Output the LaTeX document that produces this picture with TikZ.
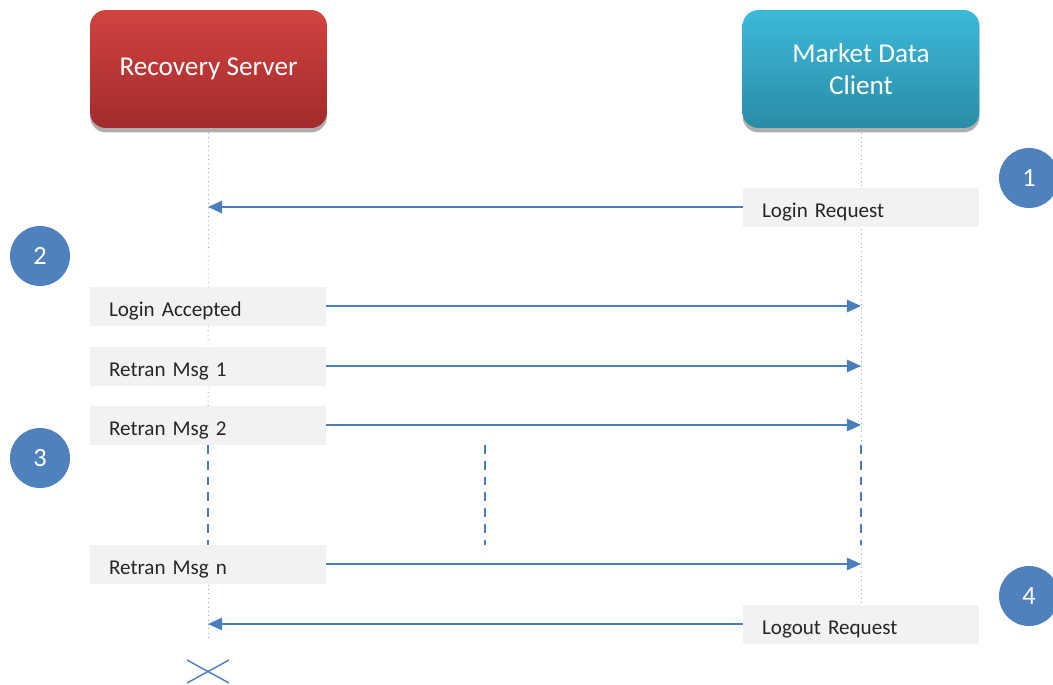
\documentclass[tikz,border=0pt]{standalone}
\usepackage{fontspec}
\setmainfont{Carlito}
\usepackage{xcolor}
\usetikzlibrary{arrows.meta,shadows}

\definecolor{srvtop}{HTML}{D24341}
\definecolor{srvbot}{HTML}{A12B2B}
\definecolor{clitop}{HTML}{3CB9DA}
\definecolor{clibot}{HTML}{2A8CA6}
\definecolor{msgblue}{HTML}{4A7EBB}
\definecolor{lifeblue}{HTML}{86A8D6}
\definecolor{lblgray}{HTML}{F2F2F2}
\definecolor{stepblue}{HTML}{4F81BD}

\tikzset{
  actor/.style={rounded corners=0.32cm,minimum width=4.74cm,minimum height=2.36cm,
    align=center,text=white,font=\fontsize{15.5}{18.5}\selectfont,
    drop shadow={shadow xshift=0pt,shadow yshift=-2.5pt,fill=black!45,opacity=0.7}},
  lbl/.style={fill=lblgray,minimum width=4.72cm,minimum height=0.78cm,text width=3.96cm,
    inner xsep=0.38cm,inner ysep=0pt,text height=12pt,text depth=0pt,align=left,
    font=\fontsize{12}{14}\selectfont,text=black!85},
  stepnum/.style={circle,fill=stepblue,minimum size=1.2cm,inner sep=0pt,text=white,
    font=\fontsize{15}{17}\selectfont},
  msg/.style={msgblue,line width=1.1pt,-{Triangle[length=8pt,width=7pt]}},
  life/.style={lifeblue,line width=0.5pt,dotted},
  gap/.style={msgblue,line width=1pt,dash pattern=on 5pt off 4pt}
}

\begin{document}
\begin{tikzpicture}[x=0.02cm,y=-0.02cm]
	\useasboundingbox (0,0) rectangle (1053,684);
	% actors
	\node[actor,top color=srvtop,bottom color=srvbot] (srv) at (208.5,69) {Recovery Server};
	\node[actor,top color=clitop,bottom color=clibot] (cli) at (861,69) {Market Data\\Client};
	% lifelines
	\coordinate (srvgap1) at (208,445);
	\coordinate (srvgap2) at (208,545);
	\coordinate (srvend) at (208,640);
	\coordinate (cligap1) at (861,445);
	\coordinate (cligap2) at (861,545);
	\coordinate (cliend) at (861,605);
	\draw[life] (srv.south) -- (srvgap1);
	\draw[gap] (srvgap1) -- (srvgap2);
	\draw[life] (srvgap2) -- (srvend);
	\draw[life] (cli.south) -- (cligap1);
	\draw[gap] (cligap1) -- (cligap2);
	\draw[life] (cligap2) -- (cliend);
	\draw[gap] (485,445) -- (485,545);
	% messages
	\node[lbl] (lreq) at (861,207) {Login Request};
	\coordinate (lreqend) at (208,207);
	\draw[msg] (lreq.west) -- (lreqend);
	\node[lbl] (lacc) at (208,306) {Login Accepted};
	\coordinate (laccend) at (861,306);
	\draw[msg] (lacc.east) -- (laccend);
	\node[lbl] (rm1) at (208,366) {Retran Msg 1};
	\coordinate (rm1end) at (861,366);
	\draw[msg] (rm1.east) -- (rm1end);
	\node[lbl] (rm2) at (208,425) {Retran Msg 2};
	\coordinate (rm2end) at (861,425);
	\draw[msg] (rm2.east) -- (rm2end);
	\node[lbl] (rmn) at (208,564) {Retran Msg n};
	\coordinate (rmnend) at (861,564);
	\draw[msg] (rmn.east) -- (rmnend);
	\node[lbl] (lout) at (861,624) {Logout Request};
	\coordinate (loutend) at (208,624);
	\draw[msg] (lout.west) -- (loutend);
	% end of session
	\draw[msgblue,line width=0.8pt] (187,660) -- (229,683) (187,683) -- (229,660);
	% steps
	\node[stepnum] (s1) at (1029,178) {1};
	\node[stepnum] (s2) at (40,256) {2};
	\node[stepnum] (s3) at (40,458) {3};
	\node[stepnum] (s4) at (1029,596) {4};
\end{tikzpicture}
\end{document}
